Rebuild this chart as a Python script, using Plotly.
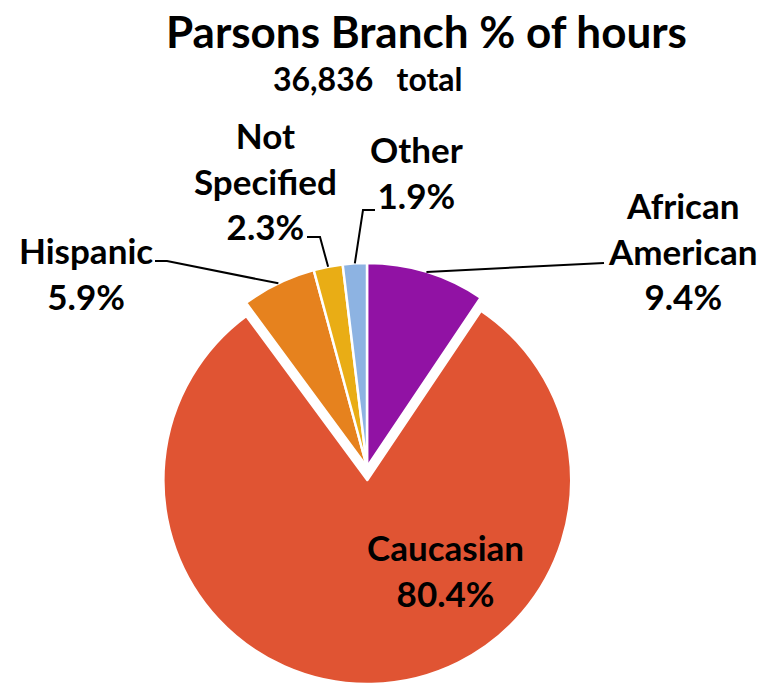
import math
import plotly.graph_objects as go

# Share of volunteer hours by group, Parsons Branch
groups = ["African American", "Caucasian", "Hispanic", "Not Specified", "Other"]
label_text = ["African<br>American", "Caucasian", "Hispanic", "Not<br>Specified", "Other"]
share_pct = [9.4, 80.4, 5.9, 2.3, 1.9]
total_hours = 36836
slice_colors = ["#9112A4", "#E05433", "#E6821E", "#E9AD15", "#8DB3E2"]
pull = [0, 0.064, 0, 0, 0]

W, H = 760, 685
dom_x = [0.1974, 0.7684]
dom_y = [0.0015, 0.6350]

FONT = "Lato"

fig = go.Figure(go.Pie(
    labels=groups,
    values=share_pct,
    sort=False,
    direction="clockwise",
    rotation=0,
    pull=pull,
    marker=dict(colors=slice_colors, line=dict(color="white", width=2.5)),
    textinfo="none",
    hoverinfo="label+value",
    domain=dict(x=dom_x, y=dom_y),
    showlegend=False,
))

# pie geometry in pixels (same rule plotly uses: radius shrinks to leave room for pull)
cx = W * (dom_x[0] + dom_x[1]) / 2
cy = H * (1 - (dom_y[0] + dom_y[1]) / 2)
r = min(W * (dom_x[1] - dom_x[0]), H * (dom_y[1] - dom_y[0])) / 2 / (1 + max(pull))
tot = sum(share_pct)


def edge_point(i):
    start = sum(share_pct[:i])
    mid = (start + share_pct[i] / 2) / tot * 2 * math.pi
    return cx + r * math.sin(mid), cy - r * math.cos(mid)


def px(x, y):
    return x / W, 1 - y / H


# label placement (pixel centre x, centre y) and leader-line bends
label_pos = {
    0: (683, 251),
    1: (445, 570),
    2: (86, 273),
    3: (265, 180),
    4: (416, 172),
}
leader_bends = {
    0: [(604, 263)],
    2: [(167, 261), (155, 261)],
    3: [(320, 237), (307, 237)],
    4: [(363, 210), (375, 210)],
}

shapes = []
for i, bends in leader_bends.items():
    pts = [edge_point(i)] + bends
    path = "M " + " L ".join(f"{px(*p)[0]:.5f},{px(*p)[1]:.5f}" for p in pts)
    shapes.append(dict(type="path", xref="paper", yref="paper", path=path,
                       line=dict(color="black", width=2)))

annotations = []
for i, (lx, ly) in label_pos.items():
    ax, ay = px(lx, ly)
    annotations.append(dict(
        x=ax, y=ay, xref="paper", yref="paper", xanchor="center", yanchor="middle",
        text=f"{label_text[i]}<br>{share_pct[i]:.1f}%", showarrow=False,
        font=dict(family=FONT, size=35, color="black", weight="bold"),
    ))

tx, ty = px(426, 31)
annotations.append(dict(
    x=tx, y=ty, xref="paper", yref="paper", xanchor="center", yanchor="middle",
    text="Parsons Branch % of hours", showarrow=False,
    font=dict(family=FONT, size=44, color="black", weight="bold"),
))
sx, sy = px(368, 78)
annotations.append(dict(
    x=sx, y=sy, xref="paper", yref="paper", xanchor="center", yanchor="middle",
    text=f"{total_hours:,}\u00a0\u00a0\u00a0total", showarrow=False,
    font=dict(family=FONT, size=32, color="black", weight="bold"),
))

fig.update_layout(
    width=W, height=H,
    margin=dict(l=0, r=0, t=0, b=0),
    paper_bgcolor="white", plot_bgcolor="white",
    shapes=shapes, annotations=annotations,
)

fig.write_html("out.html")
